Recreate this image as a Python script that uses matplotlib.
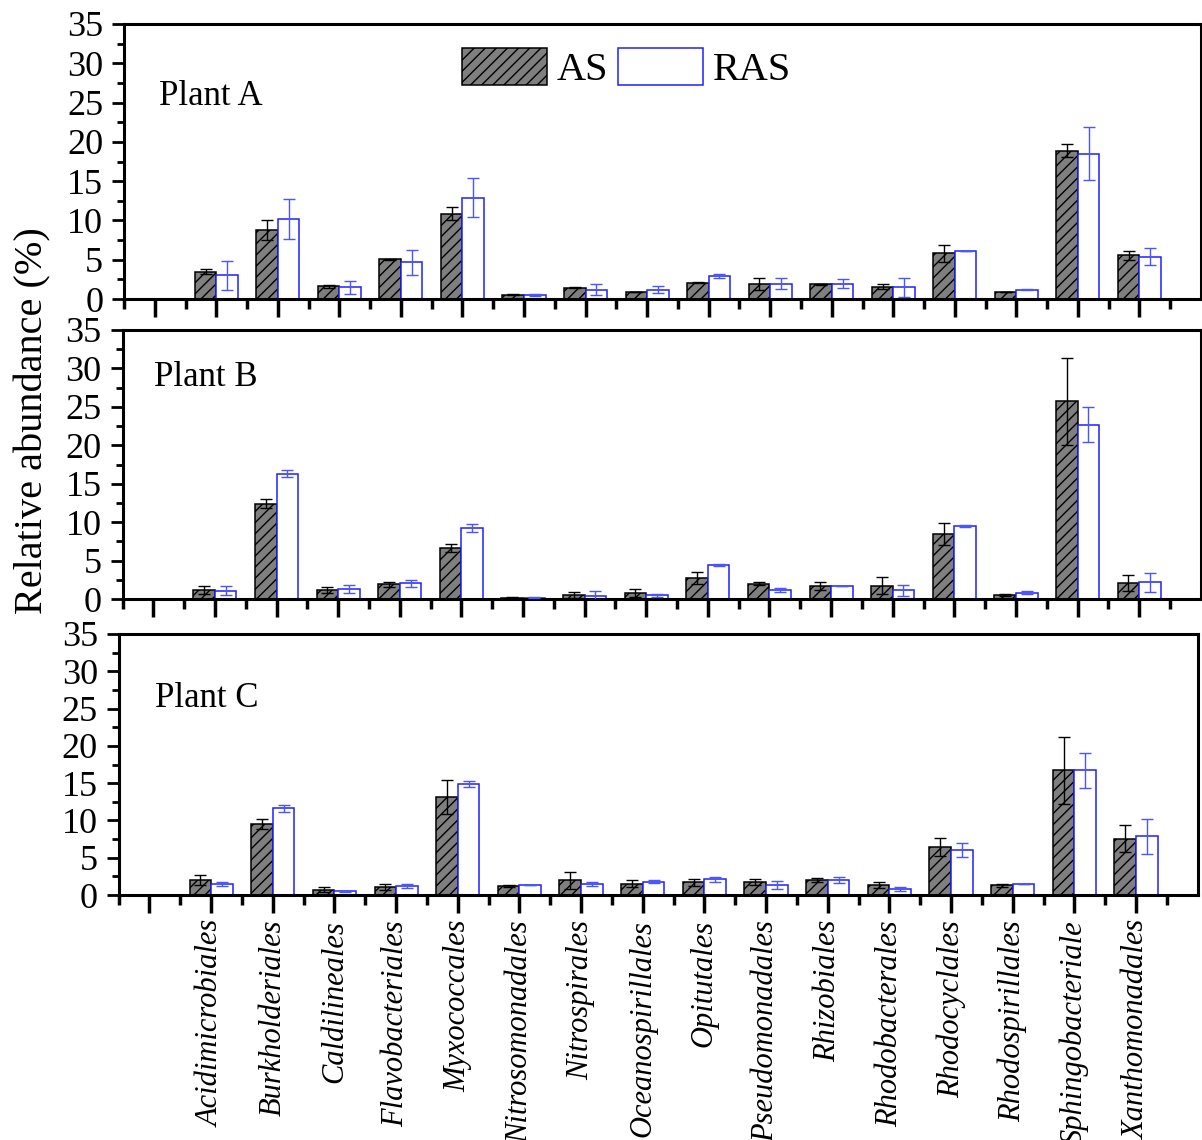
import numpy as np
import matplotlib
matplotlib.use('Agg')
import matplotlib.pyplot as plt
from matplotlib.ticker import FixedLocator

plt.rcParams['font.family'] = ['Liberation Serif', 'DejaVu Serif']
plt.rcParams['hatch.linewidth'] = 1.0

orders = ['Acidimicrobiales', 'Burkholderiales', 'Caldilineales', 'Flavobacteriales',
          'Myxococcales', 'Nitrosomonadales', 'Nitrospirales', 'Oceanospirillales',
          'Opitutales', 'Pseudomonadales', 'Rhizobiales', 'Rhodobacterales',
          'Rhodocyclales', 'Rhodospirillales', 'Sphingobacteriale', 'Xanthomonadales']

# plant A
a_as = [3.5, 8.8, 1.6, 5.05, 10.85, 0.55, 1.45, 0.9, 2.1, 1.85, 1.85, 1.55, 5.8, 0.9, 18.9, 5.55]
a_as_err = [0.35, 1.3, 0.2, 0.05, 0.8, 0.1, 0.05, 0.05, 0.05, 0.76, 0.03, 0.32, 1.1, 0.03, 0.8, 0.6]
a_ras = [3.0, 10.2, 1.5, 4.7, 12.9, 0.55, 1.2, 1.2, 2.95, 1.95, 1.95, 1.5, 6.1, 1.2, 18.5, 5.4]
a_ras_err = [1.9, 2.5, 0.8, 1.6, 2.5, 0.15, 0.7, 0.45, 0.28, 0.72, 0.57, 1.2, 0.05, 0.03, 3.4, 1.08]

# plant B
b_as = [1.17, 12.4, 1.17, 1.9, 6.65, 0.17, 0.48, 0.82, 2.73, 2.0, 1.65, 1.73, 8.5, 0.52, 25.7, 2.1]
b_as_err = [0.58, 0.56, 0.43, 0.35, 0.55, 0.05, 0.37, 0.52, 0.72, 0.24, 0.5, 1.07, 1.43, 0.17, 5.7, 1.08]
b_ras = [1.08, 16.3, 1.3, 2.05, 9.2, 0.17, 0.45, 0.48, 4.42, 1.21, 1.69, 1.13, 9.5, 0.82, 22.7, 2.17]
b_ras_err = [0.55, 0.47, 0.52, 0.48, 0.54, 0.05, 0.6, 0.17, 0.17, 0.24, 0.03, 0.72, 0.17, 0.22, 2.3, 1.24]

# plant C
c_as = [1.97, 9.5, 0.72, 1.12, 13.2, 1.16, 1.97, 1.48, 1.7, 1.79, 2.06, 1.3, 6.45, 1.3, 16.7, 7.55]
c_as_err = [0.67, 0.67, 0.3, 0.4, 2.28, 0.13, 1.16, 0.47, 0.49, 0.42, 0.25, 0.42, 1.18, 0.2, 4.47, 1.85]
c_ras = [1.48, 11.6, 0.49, 1.21, 14.85, 1.34, 1.48, 1.79, 2.1, 1.34, 2.0, 0.8, 6.0, 1.48, 16.7, 7.9]
c_ras_err = [0.27, 0.47, 0.05, 0.3, 0.4, 0.05, 0.3, 0.17, 0.31, 0.49, 0.42, 0.25, 0.96, 0.05, 2.4, 2.35]

panels = [('Plant A', a_as, a_as_err, a_ras, a_ras_err),
          ('Plant B', b_as, b_as_err, b_ras, b_ras_err),
          ('Plant C', c_as, c_as_err, c_ras, c_ras_err)]

W, H = 1202, 1140
# axes boxes in pixels: left, right, top, bottom
boxes = [(124, 1201, 24, 299), (122.5, 1200.8, 330, 599), (118.6, 1197.7, 634, 895)]
label_pos = [(0.0325, 0.705), (0.029, 0.792), (0.0337, 0.72)]

gray = '#7f7f7f'
blue = '#2020ff'
blue_err = '#4a55ff'
w = 0.35
x = np.arange(1, len(orders) + 1)

fig = plt.figure(figsize=(W / 100, H / 100), dpi=100)
axes = []
for i, (name, s_as, e_as, s_ras, e_ras) in enumerate(panels):
    l, r, t, b = boxes[i]
    ax = fig.add_axes([l / W, 1 - b / H, (r - l) / W, (b - t) / H])
    axes.append(ax)
    ax.bar(x - w / 2, s_as, w, color=gray, edgecolor='black', hatch='///', linewidth=1.1, label='AS', zorder=2)
    ax.bar(x + w / 2, s_ras, w, color='white', edgecolor=blue, linewidth=1.1, label='RAS', zorder=2)
    ax.errorbar(x - w / 2, s_as, yerr=e_as, fmt='none', ecolor='black', elinewidth=1, capsize=4.5, capthick=1, zorder=3)
    ax.errorbar(x + w / 2, s_ras, yerr=e_ras, fmt='none', ecolor=blue_err, elinewidth=1, capsize=4.5, capthick=1, zorder=3)

    ax.set_xlim(-0.5, 17)
    ax.set_ylim(0, 35)
    ax.set_yticks(np.arange(0, 36, 5))
    ax.yaxis.set_minor_locator(FixedLocator(np.arange(2.5, 35, 5)))
    ax.set_xticks(np.arange(0, 17))
    ax.xaxis.set_minor_locator(FixedLocator(np.arange(-0.5, 17, 1)))
    ax.tick_params(axis='y', which='major', length=9, width=2, labelsize=26, pad=6)
    ax.tick_params(axis='y', which='minor', length=5, width=2)
    ax.tick_params(axis='x', which='major', length=13, width=2.5)
    ax.tick_params(axis='x', which='minor', length=7, width=2.5)
    for sp in ax.spines.values():
        sp.set_linewidth(2.2)
    ax.text(label_pos[i][0], label_pos[i][1], name, transform=ax.transAxes,
            fontsize=25, va='baseline', ha='left')
    if i < 2:
        ax.set_xticklabels([])
    else:
        ax.set_xticklabels([''] + orders, rotation=90, fontstyle='italic', fontsize=22)
        ax.tick_params(axis='x', which='major', pad=5)

axes[0].legend(loc='upper left', bbox_to_anchor=(0.3138, 0.9127), ncol=2, frameon=False,
               fontsize=29, handlelength=2.1, handleheight=1.04, handletextpad=0.25,
               columnspacing=0.25, borderpad=0, borderaxespad=0)

fig.text(33 / W, 1 - 421 / H, 'Relative abundance (%)', rotation=90, fontsize=29,
         ha='center', va='center')

fig.savefig('out.png', dpi=100)
